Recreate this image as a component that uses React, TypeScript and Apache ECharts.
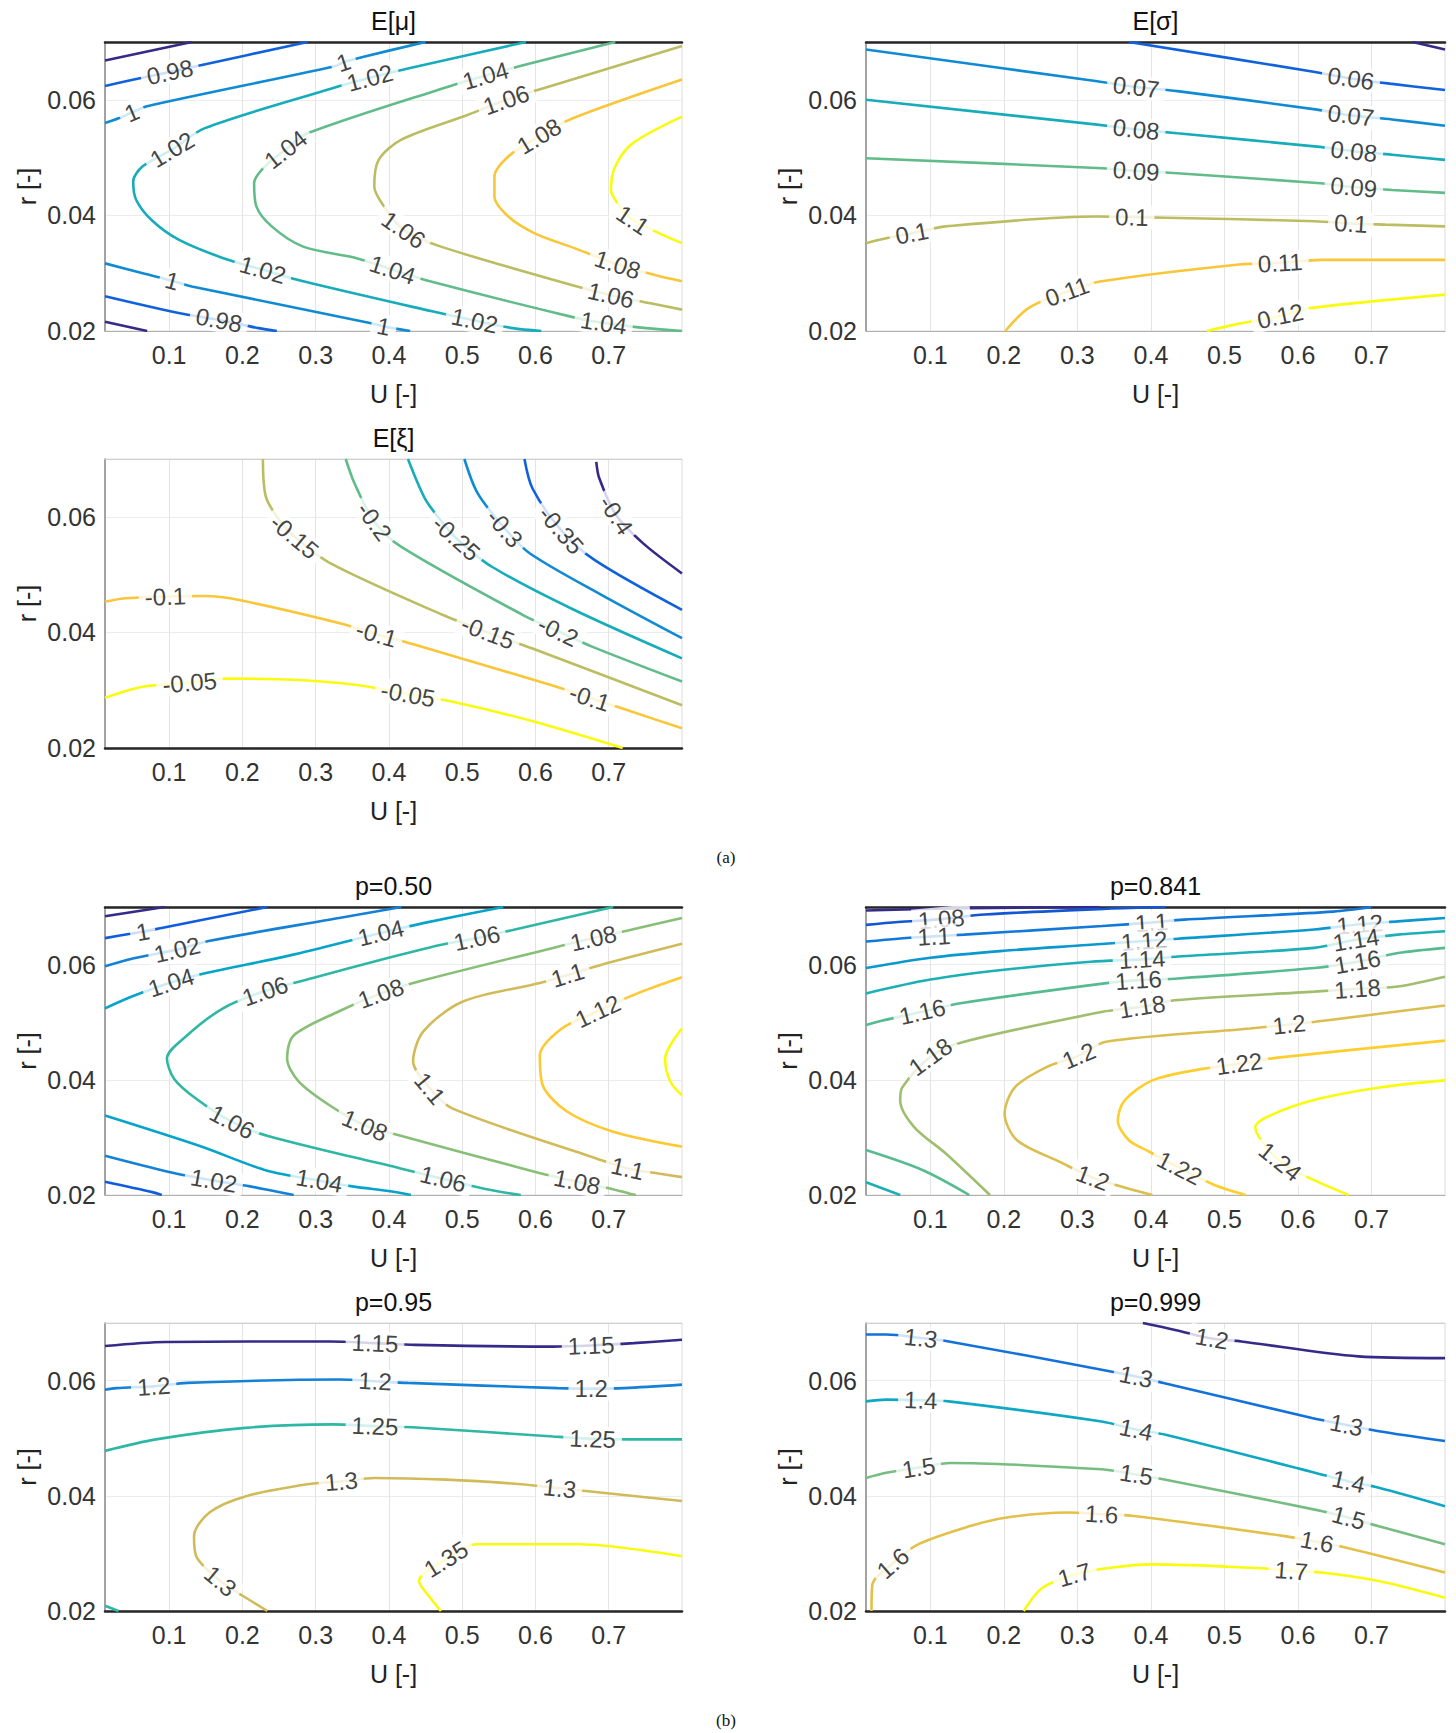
import React, { useEffect, useRef } from 'react';
import * as echarts from 'echarts';

// [level, contour points [U, r], indices of points that carry an inline label]
type Piece = [number, number[][], number[]];

const X_TICKS = [0.1, 0.2, 0.3, 0.4, 0.5, 0.6, 0.7];
const Y_TICKS = [0.02, 0.04, 0.06];
const U_MIN = 0.0125;
const U_MAX = 0.8;
const R_MIN = 0.02;
const R_MAX = 0.07;

const MU_LINES: Piece[] = [
  [0.96, [[0.0125, 0.0668], [0.131, 0.07]], []],
  [0.96, [[0.0125, 0.0216], [0.07, 0.02]], []],
  [0.98, [[0.0125, 0.0624], [0.052, 0.0635], [0.101, 0.0648], [0.14, 0.0659], [0.289, 0.07]], [2]],
  [0.98, [[0.0125, 0.026], [0.113, 0.0231], [0.168, 0.0219], [0.222, 0.0205], [0.247, 0.02]], [2]],
  [1, [[0.0125, 0.056], [0.031, 0.0568], [0.049, 0.0578], [0.07, 0.0589], [0.326, 0.0658], [0.338, 0.0665], [0.367, 0.0675], [0.45, 0.07]], [2, 5]],
  [1, [[0.0125, 0.0317], [0.064, 0.03], [0.104, 0.0287], [0.131, 0.0277], [0.374, 0.0214], [0.393, 0.0208], [0.429, 0.02]], [2, 5]],
  [1.02, [[0.587, 0.07], [0.429, 0.0655], [0.374, 0.0638], [0.323, 0.062], [0.149, 0.0551], [0.104, 0.0514], [0.064, 0.0485], [0.051, 0.0459], [0.055, 0.0427], [0.076, 0.0392], [0.113, 0.0358], [0.174, 0.0326], [0.228, 0.0306], [0.283, 0.0286], [0.459, 0.0234], [0.517, 0.0218], [0.569, 0.0205], [0.608, 0.02]], [2, 5, 12, 15]],
  [1.04, [[0.709, 0.07], [0.587, 0.0661], [0.532, 0.0642], [0.484, 0.0624], [0.289, 0.0542], [0.259, 0.0514], [0.231, 0.0485], [0.216, 0.0456], [0.219, 0.0416], [0.24, 0.0381], [0.283, 0.0346], [0.356, 0.0326], [0.405, 0.0306], [0.456, 0.0286], [0.651, 0.0224], [0.693, 0.0214], [0.751, 0.0205], [0.8, 0.02]], [2, 5, 12, 15]],
  [1.06, [[0.8, 0.0693], [0.611, 0.062], [0.56, 0.06], [0.508, 0.0574], [0.417, 0.0531], [0.386, 0.0496], [0.38, 0.045], [0.393, 0.0416], [0.42, 0.0375], [0.471, 0.0346], [0.648, 0.028], [0.703, 0.0262], [0.757, 0.0248], [0.8, 0.0237]], [2, 8, 11]],
  [1.08, [[0.8, 0.0635], [0.651, 0.0568], [0.605, 0.0537], [0.563, 0.0502], [0.544, 0.0467], [0.544, 0.0433], [0.563, 0.0398], [0.599, 0.0369], [0.654, 0.0343], [0.712, 0.0315], [0.763, 0.0297], [0.8, 0.0286]], [2, 9]],
  [1.1, [[0.8, 0.0571], [0.733, 0.0525], [0.709, 0.0485], [0.703, 0.0444], [0.715, 0.0416], [0.733, 0.0392], [0.769, 0.0369], [0.8, 0.0352]], [5]],
];

const SIGMA_LINES: Piece[] = [
  [0.05, [[0.756, 0.07], [0.8, 0.0687]], []],
  [0.06, [[0.37, 0.07], [0.619, 0.0649], [0.672, 0.0637], [0.725, 0.0628], [0.8, 0.0617]], [2]],
  [0.07, [[0.0125, 0.0687], [0.327, 0.0632], [0.38, 0.0622], [0.436, 0.0615], [0.626, 0.0583], [0.672, 0.0573], [0.728, 0.0566], [0.8, 0.0555]], [2, 5]],
  [0.08, [[0.0125, 0.06], [0.327, 0.0557], [0.38, 0.0549], [0.436, 0.0542], [0.626, 0.0519], [0.676, 0.0511], [0.728, 0.0505], [0.8, 0.0496]], [2, 5]],
  [0.09, [[0.0125, 0.0499], [0.327, 0.0482], [0.38, 0.0477], [0.436, 0.0473], [0.626, 0.0456], [0.676, 0.0449], [0.728, 0.0444], [0.8, 0.0439]], [2, 5]],
  [0.1, [[0.0125, 0.0352], [0.031, 0.0358], [0.075, 0.0369], [0.121, 0.0381], [0.327, 0.0398], [0.374, 0.0397], [0.42, 0.0396], [0.623, 0.039], [0.672, 0.0386], [0.719, 0.0384], [0.8, 0.0381]], [2, 5, 8]],
  [0.11, [[0.202, 0.02], [0.234, 0.024], [0.286, 0.0268], [0.333, 0.0286], [0.52, 0.0315], [0.576, 0.0318], [0.632, 0.0323], [0.8, 0.0323]], [2, 5]],
  [0.12, [[0.476, 0.02], [0.514, 0.0211], [0.576, 0.0226], [0.619, 0.024], [0.8, 0.0263]], [2]],
];

const XI_LINES: Piece[] = [
  [-0.05, [[0.0125, 0.0287], [0.064, 0.0306], [0.128, 0.0313], [0.18, 0.032], [0.27, 0.0318], [0.356, 0.0309], [0.426, 0.0293], [0.487, 0.028], [0.6, 0.0245], [0.719, 0.02]], [2, 6]],
  [-0.1, [[0.0125, 0.0453], [0.04, 0.0459], [0.095, 0.0462], [0.149, 0.0463], [0.196, 0.0456], [0.333, 0.0416], [0.383, 0.0397], [0.437, 0.0378], [0.621, 0.0309], [0.674, 0.0287], [0.724, 0.0266], [0.8, 0.0234]], [2, 6, 9]],
  [-0.15, [[0.228, 0.07], [0.232, 0.0635], [0.25, 0.0595], [0.271, 0.0566], [0.321, 0.0519], [0.474, 0.043], [0.535, 0.04], [0.596, 0.0372], [0.8, 0.0274]], [3, 6]],
  [-0.2, [[0.341, 0.07], [0.353, 0.0658], [0.38, 0.0592], [0.417, 0.0548], [0.583, 0.043], [0.631, 0.0402], [0.678, 0.0375], [0.8, 0.0315]], [2, 5]],
  [-0.25, [[0.426, 0.07], [0.449, 0.0632], [0.47, 0.0595], [0.492, 0.0563], [0.54, 0.0514], [0.651, 0.044], [0.8, 0.0355]], [3]],
  [-0.3, [[0.503, 0.07], [0.521, 0.0641], [0.558, 0.058], [0.592, 0.0537], [0.69, 0.0465], [0.8, 0.039]], [2]],
  [-0.35, [[0.585, 0.07], [0.596, 0.0649], [0.635, 0.0577], [0.681, 0.0525], [0.8, 0.0439]], [2]],
  [-0.4, [[0.683, 0.0695], [0.687, 0.0667], [0.71, 0.0603], [0.747, 0.0554], [0.8, 0.0502]], [2]],
];

const P50_LINES: Piece[] = [
  [0.98, [[0.0125, 0.0684], [0.094, 0.07]], []],
  [1, [[0.0125, 0.0646], [0.045, 0.0653], [0.064, 0.0657], [0.088, 0.0663], [0.234, 0.07]], [2]],
  [1, [[0.0125, 0.0223], [0.077, 0.0205], [0.09, 0.02]], []],
  [1.02, [[0.0125, 0.0597], [0.052, 0.0611], [0.111, 0.0626], [0.154, 0.0641], [0.332, 0.0681], [0.417, 0.07]], [2]],
  [1.02, [[0.0125, 0.0268], [0.0999, 0.024], [0.161, 0.0225], [0.2104, 0.0215], [0.246, 0.0206], [0.27, 0.02]], [2]],
  [1.04, [[0.0125, 0.0524], [0.05, 0.0545], [0.1026, 0.0569], [0.149, 0.0585], [0.265, 0.0616], [0.389, 0.0655], [0.447, 0.0672], [0.556, 0.07]], [2, 5]],
  [1.04, [[0.0125, 0.0338], [0.142, 0.0285], [0.234, 0.0242], [0.305, 0.0225], [0.35, 0.0215], [0.404, 0.0206], [0.43, 0.02]], [3]],
  [1.06, [[0.706, 0.07], [0.569, 0.066], [0.52, 0.0646], [0.47, 0.0634], [0.388, 0.0608], [0.3, 0.0578], [0.231, 0.0554], [0.1736, 0.0524], [0.1244, 0.0477], [0.097, 0.0437], [0.1067, 0.0402], [0.137, 0.0367], [0.186, 0.0327], [0.2336, 0.0303], [0.416, 0.0246], [0.474, 0.0228], [0.53, 0.0211], [0.569, 0.0202], [0.58, 0.02]], [2, 6, 12, 15]],
  [1.08, [[0.8, 0.0681], [0.729, 0.066], [0.679, 0.0646], [0.624, 0.0629], [0.442, 0.0571], [0.389, 0.055], [0.332, 0.0519], [0.27, 0.0477], [0.261, 0.0437], [0.277, 0.0397], [0.32, 0.0355], [0.367, 0.0321], [0.416, 0.0303], [0.6, 0.024], [0.657, 0.0223], [0.703, 0.0211], [0.729, 0.0202], [0.737, 0.02]], [2, 5, 11, 14]],
  [1.1, [[0.8, 0.0636], [0.688, 0.0599], [0.644, 0.0582], [0.606, 0.0568], [0.501, 0.0536], [0.447, 0.0484], [0.433, 0.0432], [0.456, 0.0385], [0.487, 0.035], [0.684, 0.0263], [0.726, 0.0246], [0.77, 0.0237], [0.8, 0.0231]], [2, 7, 10]],
  [1.12, [[0.8, 0.0578], [0.739, 0.055], [0.685, 0.0519], [0.636, 0.0489], [0.606, 0.0442], [0.61, 0.039], [0.643, 0.0345], [0.706, 0.031], [0.8, 0.0284]], [2]],
  [1.14, [[0.8, 0.0489], [0.777, 0.0437], [0.784, 0.0397], [0.8, 0.0373]], []],
];

const P841_LINES: Piece[] = [
  [1.06, [[0.0125, 0.0694], [0.15, 0.0698], [0.33, 0.07]], []],
  [1.08, [[0.0125, 0.0669], [0.056, 0.0674], [0.115, 0.0679], [0.174, 0.0687], [0.34, 0.0697], [0.42, 0.07]], [2]],
  [1.1, [[0.0125, 0.064], [0.056, 0.0645], [0.105, 0.0649], [0.146, 0.0652], [0.334, 0.0667], [0.401, 0.0673], [0.445, 0.0678], [0.648, 0.0692], [0.7, 0.07]], [2, 5]],
  [1.12, [[0.0125, 0.0594], [0.1, 0.0612], [0.2, 0.0624], [0.313, 0.0634], [0.391, 0.0641], [0.437, 0.0645], [0.622, 0.0661], [0.684, 0.067], [0.736, 0.0675], [0.8, 0.0681]], [4, 7]],
  [1.14, [[0.0125, 0.055], [0.1, 0.0574], [0.2, 0.0591], [0.318, 0.0605], [0.388, 0.0609], [0.437, 0.0614], [0.622, 0.0629], [0.679, 0.0643], [0.736, 0.0652], [0.8, 0.0658]], [4, 7]],
  [1.14, [[0.0125, 0.0222], [0.059, 0.02]], []],
  [1.16, [[0.0125, 0.0495], [0.035, 0.0503], [0.089, 0.0518], [0.141, 0.0533], [0.334, 0.0567], [0.383, 0.0573], [0.437, 0.0576], [0.622, 0.0594], [0.681, 0.0605], [0.736, 0.062], [0.8, 0.0629]], [2, 5, 8]],
  [1.16, [[0.0125, 0.0278], [0.09, 0.0243], [0.153, 0.02]], []],
  [1.18, [[0.181, 0.02], [0.121, 0.0272], [0.078, 0.0318], [0.059, 0.0364], [0.062, 0.0387], [0.1, 0.044], [0.146, 0.0466], [0.334, 0.0518], [0.388, 0.0527], [0.432, 0.0538], [0.622, 0.0553], [0.681, 0.0558], [0.736, 0.0562], [0.8, 0.0579]], [5, 8, 11]],
  [1.2, [[0.8, 0.0529], [0.638, 0.0503], [0.588, 0.0496], [0.535, 0.0489], [0.339, 0.0466], [0.302, 0.0442], [0.258, 0.0422], [0.215, 0.0387], [0.201, 0.0341], [0.218, 0.0295], [0.277, 0.0257], [0.321, 0.023], [0.37, 0.0211], [0.402, 0.02]], [2, 5, 11]],
  [1.22, [[0.8, 0.0468], [0.576, 0.0439], [0.52, 0.0428], [0.47, 0.0419], [0.402, 0.0399], [0.364, 0.0364], [0.355, 0.0329], [0.37, 0.0295], [0.395, 0.0277], [0.439, 0.0247], [0.489, 0.0216], [0.529, 0.02]], [2, 9]],
  [1.24, [[0.8, 0.0399], [0.713, 0.0387], [0.619, 0.0364], [0.557, 0.0335], [0.542, 0.0318], [0.55, 0.0295], [0.576, 0.0258], [0.613, 0.0231], [0.669, 0.02]], [6]],
];

const P95_LINES: Piece[] = [
  [1.15, [[0.0125, 0.066], [0.095, 0.0667], [0.32, 0.0668], [0.381, 0.0665], [0.436, 0.0662], [0.624, 0.0659], [0.676, 0.0661], [0.734, 0.0665], [0.8, 0.0671]], [3, 6]],
  [1.2, [[0.0125, 0.0584], [0.028, 0.0587], [0.079, 0.059], [0.125, 0.0596], [0.332, 0.0602], [0.381, 0.0599], [0.426, 0.0596], [0.63, 0.0587], [0.676, 0.0586], [0.721, 0.0587], [0.8, 0.0593]], [2, 5, 8]],
  [1.25, [[0.0125, 0.0478], [0.082, 0.0498], [0.204, 0.0518], [0.323, 0.0524], [0.381, 0.0521], [0.432, 0.0519], [0.624, 0.0503], [0.678, 0.0499], [0.727, 0.0498], [0.8, 0.0498]], [4, 7]],
  [1.25, [[0.0125, 0.0209], [0.031, 0.02]], []],
  [1.3, [[0.234, 0.02], [0.201, 0.0226], [0.17, 0.0252], [0.137, 0.0295], [0.134, 0.033], [0.155, 0.0371], [0.204, 0.0399], [0.289, 0.042], [0.335, 0.0425], [0.38, 0.0431], [0.478, 0.0428], [0.581, 0.042], [0.633, 0.0413], [0.672, 0.0408], [0.8, 0.0391]], [2, 8, 12]],
  [1.35, [[0.471, 0.02], [0.455, 0.0225], [0.441, 0.0252], [0.478, 0.029], [0.52, 0.0316], [0.66, 0.0316], [0.8, 0.0295]], [3]],
];

const P999_LINES: Piece[] = [
  [1.2, [[0.389, 0.07], [0.433, 0.0688], [0.483, 0.0673], [0.523, 0.0668], [0.682, 0.0642], [0.8, 0.0639]], [2]],
  [1.3, [[0.0125, 0.068], [0.04, 0.068], [0.087, 0.0674], [0.125, 0.0668], [0.333, 0.0619], [0.38, 0.0607], [0.417, 0.0596], [0.619, 0.0535], [0.666, 0.0523], [0.71, 0.0512], [0.8, 0.0495]], [2, 5, 8]],
  [1.4, [[0.0125, 0.0564], [0.04, 0.0567], [0.087, 0.0566], [0.125, 0.0564], [0.333, 0.0529], [0.38, 0.0515], [0.42, 0.0506], [0.623, 0.044], [0.669, 0.0425], [0.71, 0.0414], [0.8, 0.0382]], [2, 5, 8]],
  [1.5, [[0.0125, 0.0431], [0.04, 0.044], [0.084, 0.0449], [0.128, 0.0457], [0.333, 0.0446], [0.38, 0.0437], [0.42, 0.0428], [0.623, 0.0376], [0.669, 0.0362], [0.71, 0.0347], [0.8, 0.0316]], [2, 5, 8]],
  [1.6, [[0.02, 0.02], [0.021, 0.0245], [0.049, 0.0283], [0.084, 0.0316], [0.153, 0.0347], [0.202, 0.0362], [0.286, 0.0371], [0.333, 0.0368], [0.377, 0.0365], [0.582, 0.033], [0.626, 0.032], [0.666, 0.031], [0.8, 0.0267]], [2, 7, 10]],
  [1.7, [[0.227, 0.02], [0.252, 0.024], [0.296, 0.0263], [0.345, 0.0275], [0.402, 0.0281], [0.538, 0.0275], [0.591, 0.027], [0.638, 0.0266], [0.71, 0.0252], [0.8, 0.0223]], [2, 6]],
];

const TITLES = ['E[μ]', 'E[σ]', 'E[ξ]', 'p=0.50', 'p=0.841', 'p=0.95', 'p=0.999'];

const PARULA_RGB = [
  [53, 42, 135], [15, 92, 221], [20, 129, 214], [6, 164, 202], [46, 183, 164],
  [135, 191, 119], [209, 187, 89], [254, 200, 50], [249, 251, 14],
];

const FONT = '"Liberation Sans", Arial, Helvetica, sans-serif';

function parula(t: number): string {
  const c = PARULA_RGB;
  const x = Math.max(0, Math.min(1, t)) * (c.length - 1);
  const i = Math.min(c.length - 2, Math.floor(x));
  const f = x - i;
  const rgb = c[i].map((v, k) => Math.round(v + (c[i + 1][k] - v) * f));
  return `rgb(${rgb.join(',')})`;
}

const PANELS = [
  { lines: MU_LINES, left: 105, top: 42, w: 577, h: 289, darkTop: true, darkBottom: false },
  { lines: SIGMA_LINES, left: 866, top: 42, w: 579, h: 289, darkTop: true, darkBottom: false },
  { lines: XI_LINES, left: 105, top: 459, w: 577, h: 289, darkTop: false, darkBottom: true },
  { lines: P50_LINES, left: 105, top: 907, w: 577, h: 288, darkTop: true, darkBottom: false },
  { lines: P841_LINES, left: 866, top: 907, w: 579, h: 288, darkTop: true, darkBottom: false },
  { lines: P95_LINES, left: 105, top: 1323, w: 577, h: 288, darkTop: false, darkBottom: true },
  { lines: P999_LINES, left: 866, top: 1323, w: 579, h: 288, darkTop: false, darkBottom: true },
];

const TICK_FONT = 25;
const LABEL_FONT = 24;

function buildOption() {
  const grid: any[] = [];
  const xAxis: any[] = [];
  const yAxis: any[] = [];
  const series: any[] = [];
  const graphic: any[] = [];

  PANELS.forEach((p, i) => {
    grid.push({
      left: p.left, top: p.top, width: p.w, height: p.h,
      show: true, borderColor: '#dcdcdc', borderWidth: 1, backgroundColor: '#fff',
    });
    xAxis.push({
      type: 'value', gridIndex: i, min: U_MIN, max: U_MAX, position: 'bottom',
      name: 'U [-]', nameLocation: 'middle', nameGap: 50,
      nameTextStyle: { fontSize: TICK_FONT, color: '#222', fontFamily: FONT },
      axisLine: { show: true, onZero: false, lineStyle: { color: p.darkBottom ? '#262626' : '#b0b0b0', width: p.darkBottom ? 2.5 : 1 } },
      axisTick: { show: false, customValues: X_TICKS },
      axisLabel: { customValues: X_TICKS, formatter: (v: number) => v.toFixed(1), fontSize: TICK_FONT, color: '#333', margin: 11, fontFamily: FONT },
      splitLine: { show: true, lineStyle: { color: '#e4e4e4', width: 1 } },
    });
    xAxis.push({
      type: 'value', gridIndex: i, min: U_MIN, max: U_MAX, position: 'top',
      axisLine: { show: true, onZero: false, lineStyle: { color: p.darkTop ? '#262626' : '#d0d0d0', width: p.darkTop ? 2.5 : 1 } },
      axisTick: { show: false }, axisLabel: { show: false }, splitLine: { show: false },
    });
    yAxis.push({
      type: 'value', gridIndex: i, min: R_MIN, max: R_MAX,
      name: 'r [-]', nameLocation: 'middle', nameGap: 66, nameRotate: 90,
      nameTextStyle: { fontSize: TICK_FONT, color: '#222', fontFamily: FONT },
      axisLine: { show: true, onZero: false, lineStyle: { color: '#8a8a8a', width: 1.5 } },
      axisTick: { show: false, customValues: Y_TICKS },
      axisLabel: { customValues: Y_TICKS, formatter: (v: number) => v.toFixed(2), fontSize: TICK_FONT, color: '#333', margin: 9, fontFamily: FONT },
      splitLine: { show: true, lineStyle: { color: '#ececec', width: 1 } },
    });

    const levels = p.lines.map((l) => l[0]);
    const lo = Math.min(...levels);
    const hi = Math.max(...levels);
    const sx = p.w / (U_MAX - U_MIN);
    const sy = p.h / (R_MAX - R_MIN);
    const labelItems: any[] = [];

    p.lines.forEach(([lvl, pts, idx]) => {
      const color = parula((lvl - lo) / (hi - lo));
      series.push({
        type: 'line', xAxisIndex: 2 * i, yAxisIndex: i, data: pts,
        symbol: 'none', showSymbol: false, smooth: 0.3, silent: true, clip: true, z: 2,
        lineStyle: { color, width: 2.6 },
      });
      idx.forEach((k) => {
        const a = pts[Math.max(0, k - 1)];
        const b = pts[Math.min(pts.length - 1, k + 1)];
        let ang = (Math.atan2((b[1] - a[1]) * sy, (b[0] - a[0]) * sx) * 180) / Math.PI;
        if (ang > 90) ang -= 180;
        if (ang < -90) ang += 180;
        labelItems.push({ value: pts[k], name: String(lvl), label: { rotate: Math.round(ang) } });
      });
    });

    series.push({
      type: 'scatter', xAxisIndex: 2 * i, yAxisIndex: i, data: labelItems,
      symbolSize: 1, itemStyle: { color: 'transparent' }, silent: true, z: 5,
      label: {
        show: true, position: 'inside', formatter: '{b}', fontSize: LABEL_FONT, color: '#111',
        fontFamily: FONT, backgroundColor: '#fff', padding: [0, 6],
      },
    });

    graphic.push({
      type: 'text', x: p.left + p.w / 2, y: p.top - 21,
      style: { text: TITLES[i], textAlign: 'center', textVerticalAlign: 'middle', fontSize: TICK_FONT, fill: '#111', fontFamily: FONT },
    });
  });

  graphic.push({
    type: 'text', x: 726, y: 857,
    style: { text: '(a)', textAlign: 'center', textVerticalAlign: 'middle', fontSize: 17, fill: '#111', fontFamily: '"Liberation Serif", "DejaVu Serif", serif' },
  });
  graphic.push({
    type: 'text', x: 726, y: 1720,
    style: { text: '(b)', textAlign: 'center', textVerticalAlign: 'middle', fontSize: 17, fill: '#111', fontFamily: '"Liberation Serif", "DejaVu Serif", serif' },
  });

  return { animation: false, backgroundColor: '#fff', grid, xAxis, yAxis, series, graphic };
}

export default function App() {
  const ref = useRef<HTMLDivElement>(null);
  useEffect(() => {
    if (!ref.current) return;
    const chart = echarts.init(ref.current, undefined, { renderer: 'svg' });
    chart.setOption(buildOption() as any);
    return () => chart.dispose();
  }, []);
  return (
    <div
      ref={ref}
      style={{ position: 'absolute', left: 0, top: 0, width: 1456, height: 1733, background: '#fff' }}
    />
  );
}
